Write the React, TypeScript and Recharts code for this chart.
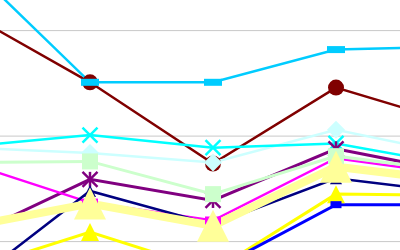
import React from 'react';
import { LineChart, Line, XAxis, YAxis, CartesianGrid } from 'recharts';

const categories = ['A', 'B', 'C', 'D', 'E'];
const skyBlue = [26.4, 15.1, 15.1, 18.2, 18.5];
const maroon = [21.7, 15.1, 7.4, 14.6, 11.1];
const cyan = [9.0, 10.1, 8.9, 9.3, 7.2];
const lightCyan = [8.9, 8.4, 7.5, 10.6, 8.2];
const lightGreen = [7.5, 7.6, 4.5, 8.1, 6.6];
const purple = [0.4, 5.9, 3.9, 8.8, 6.5];
const magenta = [7.5, 3.7, 2.0, 7.9, 6.3];
const navy = [-4.2, 4.8, 1.6, 6.0, 4.6];
const lightYellow = [1.4, 3.6, 1.5, 7.1, 5.7];
const yellow = [-2.8, 0.9, -2.8, 4.5, 4.4];
const blue = [-5.5, -4.6, -2.7, 3.5, 3.5];

const data = categories.map((c, i) => ({
  cat: c,
  skyBlue: skyBlue[i],
  maroon: maroon[i],
  cyan: cyan[i],
  lightCyan: lightCyan[i],
  lightGreen: lightGreen[i],
  purple: purple[i],
  magenta: magenta[i],
  navy: navy[i],
  lightYellow: lightYellow[i],
  yellow: yellow[i],
  blue: blue[i],
}));

type DP = { cx?: number; cy?: number; index?: number };

const rectDot = (w: number, h: number, color: string) => (p: DP) => (
  <rect key={p.index} x={(p.cx ?? 0) - w / 2} y={(p.cy ?? 0) - h / 2} width={w} height={h} fill={color} />
);
const circleDot = (r: number, color: string) => (p: DP) => (
  <circle key={p.index} cx={p.cx} cy={p.cy} r={r} fill={color} />
);
const xDot = (s: number, color: string, sw: number) => (p: DP) => {
  const cx = p.cx ?? 0, cy = p.cy ?? 0, h = s / 2;
  return (
    <g key={p.index} stroke={color} strokeWidth={sw}>
      <line x1={cx - h} y1={cy - h} x2={cx + h} y2={cy + h} />
      <line x1={cx - h} y1={cy + h} x2={cx + h} y2={cy - h} />
    </g>
  );
};
const starDot = (s: number, color: string, sw: number) => (p: DP) => {
  const cx = p.cx ?? 0, cy = p.cy ?? 0, h = s / 2;
  return (
    <g key={p.index} stroke={color} strokeWidth={sw}>
      <line x1={cx - h} y1={cy - h} x2={cx + h} y2={cy + h} />
      <line x1={cx - h} y1={cy + h} x2={cx + h} y2={cy - h} />
      <line x1={cx} y1={cy - h} x2={cx} y2={cy + h} />
    </g>
  );
};
const diamondDot = (w: number, h: number, color: string) => (p: DP) => {
  const cx = p.cx ?? 0, cy = p.cy ?? 0;
  return (
    <polygon key={p.index} points={`${cx},${cy - h / 2} ${cx + w / 2},${cy} ${cx},${cy + h / 2} ${cx - w / 2},${cy}`} fill={color} />
  );
};
const triDot = (w: number, h: number, color: string) => (p: DP) => {
  const cx = p.cx ?? 0, cy = p.cy ?? 0;
  return (
    <polygon key={p.index} points={`${cx},${cy - h / 2} ${cx + w / 2},${cy + h / 2} ${cx - w / 2},${cy + h / 2}`} fill={color} />
  );
};

const gridLine = (props: any) => {
  const light = props.y1 < 80;
  return (
    <line
      key={props.key ?? props.index}
      x1={props.x1}
      x2={props.x2}
      y1={props.y1}
      y2={props.y2}
      stroke={light ? '#ececec' : '#c8c8c8'}
      strokeWidth={1}
    />
  );
};

export default function App() {
  return (
    <div style={{ position: 'fixed', left: 0, top: 0, width: 400, height: 250, overflow: 'hidden', background: '#fff' }}>
      <div style={{ position: 'absolute', left: -33, top: -96 }}>
        <LineChart width={492} height={422} data={data} margin={{ top: 0, right: 0, bottom: 0, left: 0 }}>
          <CartesianGrid vertical={false} horizontal={gridLine} />
          <XAxis dataKey="cat" hide />
          <YAxis hide domain={[-8, 32]} ticks={[0, 10, 20]} />
          <Line dataKey="maroon" stroke="#800000" strokeWidth={2.5} dot={circleDot(8, '#800000')} isAnimationActive={false} />
          <Line dataKey="skyBlue" stroke="#00CCFF" strokeWidth={2.5} dot={rectDot(18, 7, '#00CCFF')} isAnimationActive={false} />
          <Line dataKey="lightCyan" stroke="#CCFFFF" strokeWidth={2.5} dot={diamondDot(18, 18, '#CCFFFF')} isAnimationActive={false} />
          <Line dataKey="cyan" stroke="#00FFFF" strokeWidth={2.5} dot={xDot(15, '#00FFFF', 2.5)} isAnimationActive={false} />
          <Line dataKey="purple" stroke="#800080" strokeWidth={3} dot={starDot(15, '#800080', 2.5)} isAnimationActive={false} />
          <Line dataKey="magenta" stroke="#FF00FF" strokeWidth={2.5} dot={rectDot(16, 8, '#FF00FF')} isAnimationActive={false} />
          <Line dataKey="lightGreen" stroke="#CCFFCC" strokeWidth={3} dot={rectDot(16, 16, '#CCFFCC')} isAnimationActive={false} />
          <Line dataKey="navy" stroke="#000080" strokeWidth={2.5} dot={triDot(12, 12, '#000080')} isAnimationActive={false} />
          <Line dataKey="lightYellow" stroke="#FFFF99" strokeWidth={8} dot={triDot(32, 32, '#FFFF99')} isAnimationActive={false} />
          <Line dataKey="yellow" stroke="#FFFF00" strokeWidth={3} dot={triDot(18, 18, '#FFFF00')} isAnimationActive={false} />
          <Line dataKey="blue" stroke="#0000FF" strokeWidth={3} dot={rectDot(11, 7, '#0000FF')} isAnimationActive={false} />
        </LineChart>
      </div>
    </div>
  );
}
